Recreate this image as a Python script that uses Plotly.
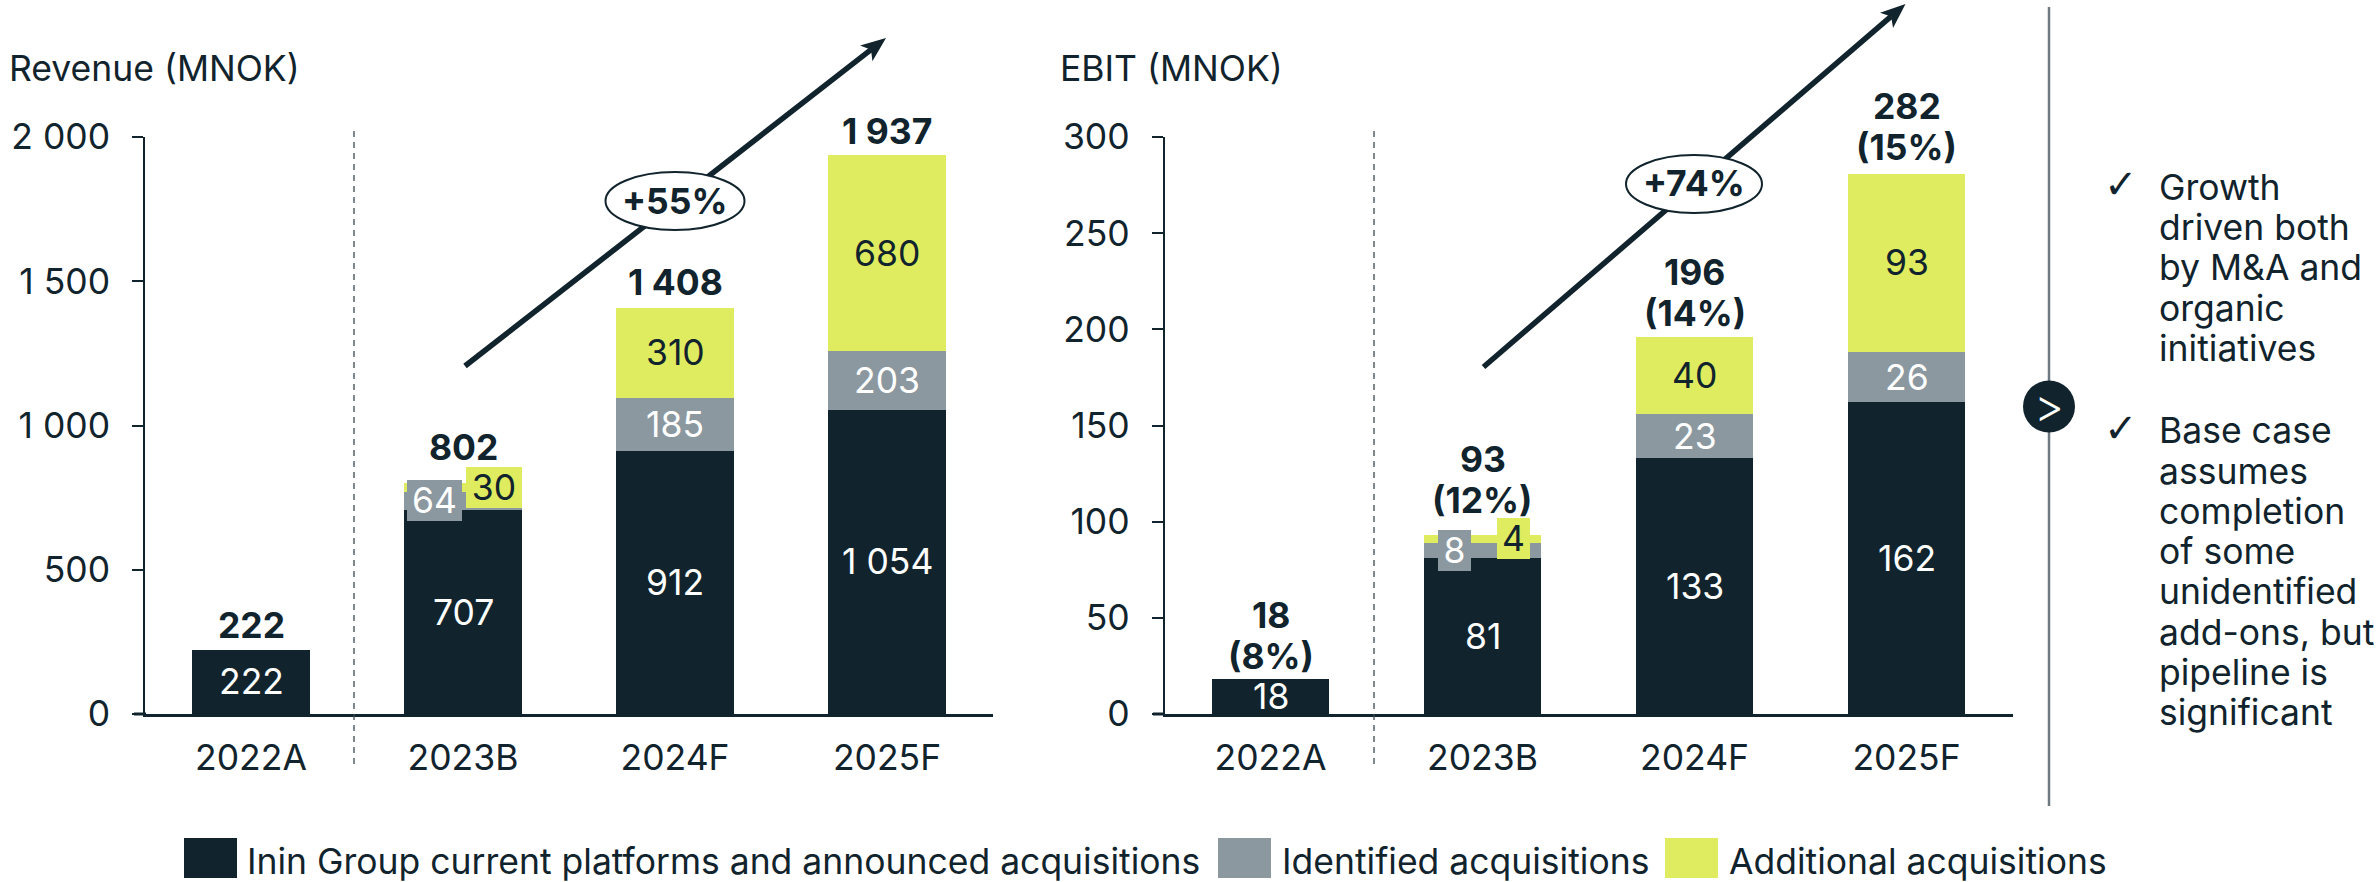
import math
import plotly.graph_objects as go

W, H = 2379, 882

# Chart data
years = ["2022A", "2023B", "2024F", "2025F"]
series_names = ["Inin Group current platforms and announced acquisitions",
                "Identified acquisitions", "Additional acquisitions"]

rev_current = [222, 707, 912, 1054]
rev_identified = [0, 64, 185, 203]
rev_additional = [0, 30, 310, 680]
rev_totals = [222, 802, 1408, 1937]
rev_total_labels = ["222", "802", "1 408", "1 937"]
rev_segment_labels = [["222", "707", "912", "1 054"],
                      ["", "64", "185", "203"],
                      ["", "30", "310", "680"]]
rev_ticks = [0, 500, 1000, 1500, 2000]
rev_ticktext = ["0", "500", "1 000", "1 500", "2 000"]

ebit_current = [18, 81, 133, 162]
ebit_identified = [0, 8, 23, 26]
ebit_additional = [0, 4, 40, 93]
ebit_totals = [18, 93, 196, 282]
ebit_margins = ["(8%)", "(12%)", "(14%)", "(15%)"]
ebit_ticks = [0, 50, 100, 150, 200, 250, 300]

side_notes = [["Growth", "driven both", "by M&A and", "organic", "initiatives"],
              ["Base case", "assumes", "completion", "of some", "unidentified",
               "add-ons, but", "pipeline is", "significant"]]

DARK, GREY, LIME = "#11232c", "#8c98a0", "#dfec5f"
FONT = "Inter"
FS = 35.5


def px(x):
    return x / W


def py(y):
    return 1 - y / H


shapes, annotations = [], []


def text(x, y, s, size=FS, weight=400, color=DARK, anchor="center", font=FONT):
    annotations.append(dict(xref="paper", yref="paper", x=px(x), y=py(y), text=s,
                            showarrow=False, xanchor=anchor, yanchor="middle",
                            borderpad=0, borderwidth=0,
                            font=dict(family=font, size=size, weight=weight, color=color)))


def vline(x, y0, y1, color, width, dash="solid"):
    shapes.append(dict(type="line", xref="paper", yref="paper", x0=px(x), x1=px(x),
                       y0=py(y0), y1=py(y1), line=dict(color=color, width=width, dash=dash)))


def growth_arrow(x0, y0, x1, y1, cx, cy, rx, ry, label):
    # Shaft, arrowhead and the oval badge that sits on top of the shaft
    ang = math.atan2(y1 - y0, x1 - x0)
    ux, uy = math.cos(ang), math.sin(ang)
    nx, ny = -uy, ux
    bx, by = x1 - 25 * ux, y1 - 25 * uy
    sx, sy = x1 - 19 * ux, y1 - 19 * uy
    shapes.append(dict(type="line", xref="paper", yref="paper", x0=px(x0), y0=py(y0),
                       x1=px(sx), y1=py(sy), line=dict(color=DARK, width=5.5)))
    pts = [(x1, y1), (bx + 10 * nx, by + 10 * ny), (sx, sy), (bx - 10 * nx, by - 10 * ny)]
    path = "M" + " L".join(f"{px(a):.5f},{py(b):.5f}" for a, b in pts) + " Z"
    shapes.append(dict(type="path", xref="paper", yref="paper", path=path,
                       fillcolor=DARK, line=dict(width=0)))
    shapes.append(dict(type="circle", xref="paper", yref="paper",
                       x0=px(cx - rx), x1=px(cx + rx), y0=py(cy + ry), y1=py(cy - ry),
                       fillcolor="white", line=dict(color=DARK, width=2)))
    text(cx, cy, label, weight=700)


def seg_label(xaxis, yaxis, cat, value, s, color, box=None, xshift=0):
    a = dict(xref=xaxis, yref=yaxis, x=cat, y=value, text=s, showarrow=False,
             xshift=xshift, borderpad=0, borderwidth=0,
             font=dict(family=FONT, size=FS, weight=400, color=color))
    if box:
        a.update(bgcolor=box[0], width=box[1], height=box[2])
    annotations.append(a)


fig = go.Figure()
Y_TOP, Y_BASE = 137, 714

for axis_id, stacks in (("", (rev_current, rev_identified, rev_additional)),
                        ("2", (ebit_current, ebit_identified, ebit_additional))):
    for name, vals, col in zip(series_names, stacks, (DARK, GREY, LIME)):
        fig.add_trace(go.Bar(x=years, y=vals, name=name, marker=dict(color=col, line=dict(width=0)),
                             xaxis="x" + axis_id, yaxis="y" + axis_id, showlegend=False,
                             hoverinfo="skip"))

# Revenue segment labels; the narrow 2023B segments get side-by-side boxed labels
for i, yr in enumerate(years):
    base = 0
    for s, vals, lab, col in zip(range(3), (rev_current, rev_identified, rev_additional),
                                 rev_segment_labels, ("white", "white", DARK)):
        v = vals[i]
        if v:
            if yr == "2023B" and s == 1:
                seg_label("x", "y", yr, base + v / 2, lab[i], "white", (GREY, 55, 41), xshift=-29)
            elif yr == "2023B" and s == 2:
                seg_label("x", "y", yr, base + v / 2, lab[i], DARK, (LIME, 56, 41), xshift=30.5)
            else:
                seg_label("x", "y", yr, base + v / 2, lab[i], col)
        base += v

# EBIT segment labels
for i, yr in enumerate(years):
    base = 0
    for s, vals, col in zip(range(3), (ebit_current, ebit_identified, ebit_additional),
                            ("white", "white", DARK)):
        v = vals[i]
        if v:
            if yr == "2023B" and s == 1:
                seg_label("x2", "y2", yr, base + v / 2, str(v), "white", (GREY, 33, 41), xshift=-28.5)
            elif yr == "2023B" and s == 2:
                seg_label("x2", "y2", yr, base + v / 2, str(v), DARK, (LIME, 33, 41), xshift=30.5)
            else:
                seg_label("x2", "y2", yr, base + v / 2, str(v), col)
        base += v

# Totals above the stacks
rev_offsets = [24, 35, 25, 24]
for yr, total, s, off in zip(years, rev_totals, rev_total_labels, rev_offsets):
    annotations.append(dict(xref="x", yref="y", x=yr, y=total, text=s, showarrow=False, yshift=off,
                            font=dict(family=FONT, size=FS, weight=700, color=DARK)))

ebit_offsets = [64, 76, 65, 65]
for yr, total, pct, off in zip(years, ebit_totals, ebit_margins, ebit_offsets):
    annotations.append(dict(xref="x2", yref="y2", x=yr, y=total, text=str(total), showarrow=False, yshift=off,
                            font=dict(family=FONT, size=FS, weight=700, color=DARK)))
    annotations.append(dict(xref="x2", yref="y2", x=yr, y=total, text=pct, showarrow=False, yshift=off - 41,
                            font=dict(family=FONT, size=FS, weight=700, color=DARK)))

text(9, 68, "Revenue (MNOK)", anchor="left")
text(1060, 68, "EBIT (MNOK)", anchor="left")

# Actual / budget dividers
vline(354, 131, 767, "#3a4850", 1.3, "6px,5px")
vline(1374, 131, 767, "#3a4850", 1.3, "6px,5px")

growth_arrow(465, 366, 886, 38, 675, 201, 69.5, 29, "+55%")
growth_arrow(1483.5, 367, 1905.5, 4, 1694, 184, 68, 29, "+74%")

# Baseline stubs left of the value axes
for x0, x1 in ((134, 146), (1153, 1165)):
    shapes.append(dict(type="line", xref="paper", yref="paper", x0=px(x0), x1=px(x1),
                       y0=py(Y_BASE), y1=py(Y_BASE), line=dict(color=DARK, width=3)))

# Panel separator with chevron badge
vline(2049, 7, 806, "#6d7a82", 2.5)
shapes.append(dict(type="circle", xref="paper", yref="paper", x0=px(2023), x1=px(2075),
                   y0=py(432.5), y1=py(380.5), fillcolor=DARK, line=dict(width=0)))
text(2049, 405, "&gt;", size=46, weight=300, color="white")

# Commentary bullets
y_line = 187.5
for block in side_notes:
    text(2120.5, y_line - 3, "✓", size=40, font="DejaVu Sans")
    for line in block:
        text(2159, y_line, line, anchor="left")
        y_line += 40.2
    y_line += 42.5

# Legend
for name, col, x_box, x_txt in zip(series_names, (DARK, GREY, LIME), (184, 1218, 1665), (247, 1282, 1729)):
    shapes.append(dict(type="rect", xref="paper", yref="paper", x0=px(x_box), x1=px(x_box + 53),
                       y0=py(878), y1=py(838), fillcolor=col, line=dict(width=0)))
    text(x_txt, 861, name, anchor="left")

axis_font = dict(family=FONT, size=FS, color=DARK)
common_x = dict(type="category", categoryorder="array", categoryarray=years, range=[-0.5, 3.5],
                showgrid=False, zeroline=False, showline=True, linecolor=DARK, linewidth=3,
                ticks="", ticklen=0, tickfont=axis_font, ticklabelstandoff=10)
common_y = dict(showgrid=False, zeroline=False, showline=True, linecolor=DARK, linewidth=1.5,
                ticks="outside", ticklen=11, tickwidth=1.5, tickcolor=DARK, tickfont=axis_font,
                ticklabelstandoff=15, domain=[py(Y_BASE), py(Y_TOP)])

fig.update_layout(
    width=W, height=H, margin=dict(l=0, r=0, t=0, b=0, autoexpand=False),
    paper_bgcolor="white", plot_bgcolor="white", barmode="stack", bargap=0.445,
    xaxis={**common_x, "domain": [px(145), px(993)], "anchor": "y"},
    yaxis={**common_y, "range": [0, 2000], "tickvals": rev_ticks, "ticktext": rev_ticktext, "anchor": "x"},
    xaxis2={**common_x, "domain": [px(1164.5), px(2012.5)], "anchor": "y2"},
    yaxis2={**common_y, "range": [0, 300], "tickvals": ebit_ticks, "anchor": "x2"},
    shapes=shapes, annotations=annotations, showlegend=False,
)

fig.write_html("out.html", config={"displayModeBar": False})
